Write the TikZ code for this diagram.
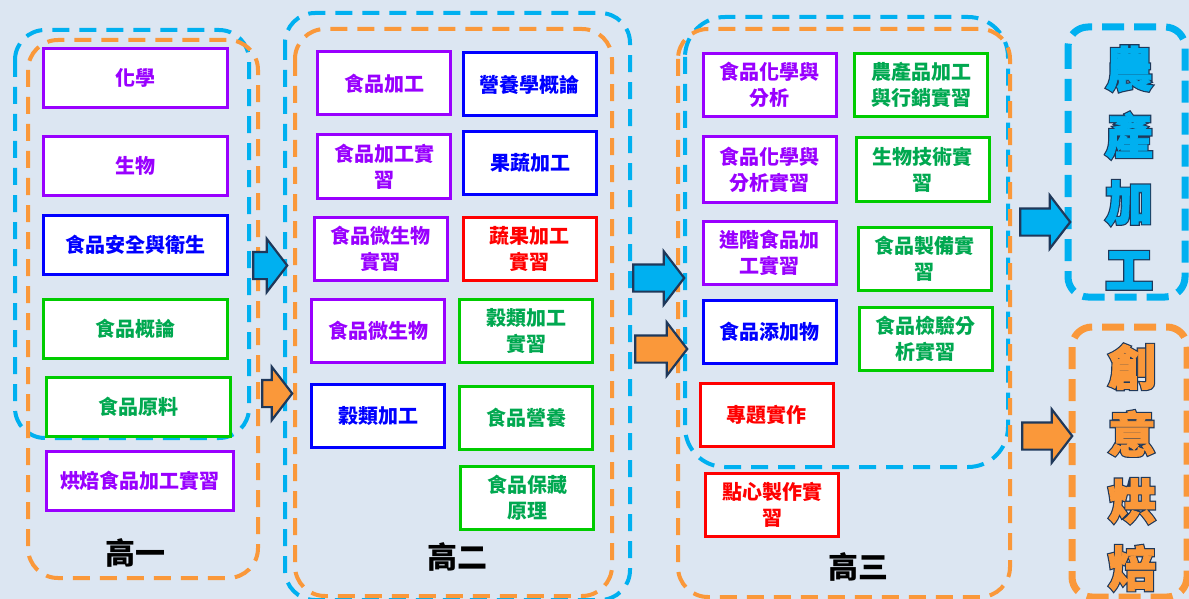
\documentclass[tikz,border=0pt]{standalone}
\usepackage{fontspec}
\newfontfamily\cjk{Noto Sans CJK TC}
\usetikzlibrary{shapes.arrows}
\definecolor{bgcol}{RGB}{220,230,242}
\definecolor{zblue}{RGB}{0,176,240}
\definecolor{zorange}{RGB}{250,152,58}
\definecolor{cpurple}{RGB}{153,0,255}
\definecolor{cblue}{RGB}{0,0,255}
\definecolor{cgreen}{RGB}{0,204,0}
\definecolor{cgreentext}{RGB}{0,168,80}
\definecolor{cred}{RGB}{255,0,0}
\definecolor{arrline}{RGB}{31,56,90}
\newcommand{\boxfont}{\cjk\bfseries\fontsize{10pt}{13pt}\selectfont}
\newcommand{\strokewidth}[1]{\special{pdf:code 2 Tr #1 w}}
\tikzset{
course/.style={draw=#1, text=#1, fill=white, line width=1.5pt, align=center, inner sep=1pt, font=\boxfont}, % one course box
wide/.style={minimum width=92pt, minimum height=29.5pt}, % boxes of the first year
narrow/.style={minimum width=66.5pt, minimum height=31.5pt}, % boxes of the second and third year
pur/.style={course=cpurple},
blu/.style={course=cblue},
grn/.style={course=cgreen, text=cgreentext},
rd/.style={course=cred},
zone/.style={line width=2pt, dash pattern=on 8.5pt off 5pt, rounded corners=15pt}, % dashed group frames
track/.style={line width=3.5pt, dash pattern=on 11pt off 5pt, rounded corners=10pt}, % frames of the two tracks
year/.style={font=\cjk\bfseries\fontsize{15pt}{15pt}\selectfont},
bigtext/.style={align=center, font=\cjk\bfseries\fontsize{24pt}{33.5pt}\selectfont, execute at begin node=\strokewidth{0.4}},
bigback/.style={bigtext, text=arrline, execute at begin node=\strokewidth{1.6}}, % dark rim under the track titles
blockarrow/.style={shape=single arrow, draw=arrline, line width=1.1pt, inner xsep=0pt, inner ysep=6.25pt, single arrow head extend=6.5pt, single arrow tip angle=105},
}
\begin{document}
\begin{tikzpicture}[x=0.5pt, y=-0.5pt]
    \useasboundingbox (0,0) rectangle (1189,599);
    \fill[bgcol] (0,0) rectangle (1189,599);
    % group frames
    \draw[zone, zblue] (15,30) rectangle (249,438);
    \draw[zone, zorange] (28,40) rectangle (258,578);
    \draw[zone, zblue] (285,13) rectangle (630,600);
    \draw[zone, zorange] (295,29) rectangle (612,596);
    \draw[zone, zblue, rounded corners=20pt] (685,17) rectangle (1008,467);
    \draw[zone, zorange] (678,29) rectangle (1010,597);
    \draw[track, zblue] (1068,27) rectangle (1185,297);
    \draw[track, zorange] (1072,327) rectangle (1187,597);

    % first year
    \node[pur, wide] (chem) at (135.5,78) {化學};
    \node[pur, wide] (bio) at (135.5,166) {生物};
    \node[blu, wide] (safety) at (135.5,244.5) {食品安全與衛生};
    \node[grn, wide] (intro) at (135.5,328.5) {食品概論};
    \node[grn, wide] (material) at (138,406.5) {食品原料};
    \node[pur, wide, minimum width=93.5pt] (bakeprac) at (140,480.5) {烘焙食品加工實習};
    \node[year] (y1) at (135,553) {高一};

    % second year
    \node[pur, narrow] (proc) at (384,83.5) {食品加工};
    \node[pur, narrow] (procprac) at (384,166.5) {食品加工實\\習};
    \node[pur, narrow] (microprac) at (380.5,248.5) {食品微生物\\實習};
    \node[pur, narrow] (micro) at (378,331) {食品微生物};
    \node[blu, narrow] (grain) at (378,416) {穀類加工};
    \node[blu, narrow] (nutri) at (529.5,84.5) {營養學概論};
    \node[blu, narrow] (fruit) at (530,163) {果蔬加工};
    \node[rd, narrow] (vegprac) at (529.5,248.5) {蔬果加工\\實習};
    \node[grn, narrow] (grainprac) at (526,331) {穀類加工\\實習};
    \node[grn, narrow] (foodnutri) at (526,417.5) {食品營養};
    \node[grn, narrow] (preserve) at (527,497.5) {食品保藏\\原理};
    \node[year] (y2) at (457,557) {高二};

    % third year
    \node[pur, narrow] (analysis) at (769.5,85) {食品化學與\\分析};
    \node[pur, narrow, minimum height=33pt] (anaprac) at (769.5,169.5) {食品化學與\\分析實習};
    \node[pur, narrow] (advprac) at (769.5,252.5) {進階食品加\\工實習};
    \node[blu, narrow] (additive) at (769.5,331.5) {食品添加物};
    \node[rd, narrow] (project) at (766.5,414.5) {專題實作};
    \node[rd, narrow] (dessert) at (772,505) {點心製作實\\習};
    \node[grn, narrow] (market) at (921,85) {農產品加工\\與行銷實習};
    \node[grn, narrow] (biotech) at (922.5,169.5) {生物技術實\\習};
    \node[grn, narrow] (prepare) at (924.5,259) {食品製備實\\習};
    \node[grn, narrow] (inspect) at (925.5,339) {食品檢驗分\\析實習};
    \node[year] (y3) at (858,567) {高三};

    % tracks
    \node[bigback] (agriback) at (1129,167.5) {農\\產\\加\\工};
    \node[bigtext, text=zblue] (agri) at (1129,167.5) {農\\產\\加\\工};
    \node[bigback] (bakeback) at (1132,467.5) {創\\意\\烘\\焙};
    \node[bigtext, text=zorange] (bake) at (1132,467.5) {創\\意\\烘\\焙};

    % block arrows
    \node[blockarrow, fill=zblue, minimum height=17pt] (arr1) at (265,265.5) {};
    \node[blockarrow, fill=zorange, minimum height=15pt] (arr2) at (272,393.5) {};
    \node[blockarrow, fill=zblue, minimum height=25.5pt] (arr3) at (653.5,278) {};
    \node[blockarrow, fill=zorange, minimum height=26pt] (arr4) at (656,349) {};
    \node[blockarrow, fill=zblue, minimum height=25pt] (arr5) at (1040,222) {};
    \node[blockarrow, fill=zorange, minimum height=25pt] (arr6) at (1042,436) {};
\end{tikzpicture}
\end{document}
